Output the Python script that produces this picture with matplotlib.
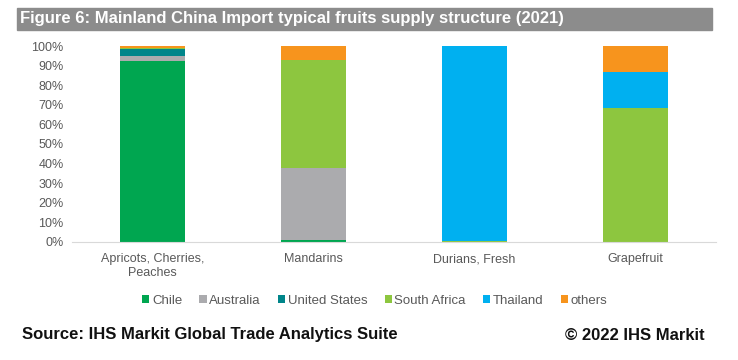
import numpy as np
import matplotlib.pyplot as plt
from matplotlib.patches import Rectangle
from matplotlib.ticker import PercentFormatter

categories = ["Apricots, Cherries,\nPeaches", "Mandarins", "Durians, Fresh", "Grapefruit"]
series = ["Chile", "Australia", "United States", "South Africa", "Thailand", "others"]

chile = [92.5, 1.2, 0.0, 0.0]
australia = [2.5, 36.5, 0.0, 0.0]
united_states = [3.5, 0.3, 0.0, 0.0]
south_africa = [0.5, 55.0, 0.5, 68.2]
thailand = [0.0, 0.0, 99.5, 18.7]
others = [1.0, 7.0, 0.0, 13.1]

colors = ["#00A650", "#ABABAE", "#00858A", "#8DC63F", "#00B0F0", "#F7941D"]

plt.rcParams['font.family'] = ['Liberation Sans', 'DejaVu Sans']

fig = plt.figure(figsize=(7.38, 3.6), dpi=100)
ax = fig.add_axes([0.0976, 0.328, 0.8724, 0.544])

x = np.arange(len(categories))
bottom = np.zeros(len(categories))
for name, vals, c in zip(series, [chile, australia, united_states, south_africa, thailand, others], colors):
    vals = np.array(vals) / 100
    ax.bar(x, vals, width=0.4, bottom=bottom, color=c, label=name)
    bottom += vals

ax.set_xlim(-0.5, len(categories) - 0.5)
ax.set_ylim(0, 1)
ax.set_yticks(np.arange(0, 1.01, 0.1))
ax.yaxis.set_major_formatter(PercentFormatter(1.0, decimals=0))
ax.set_xticks(x)
ax.set_xticklabels(categories)
ax.tick_params(length=0, labelsize=9, colors="#595959", pad=6)
ax.tick_params(axis="x", pad=8)
for s in ["top", "right", "left"]:
    ax.spines[s].set_visible(False)
ax.spines["bottom"].set_color("#D9D9D9")

ax.legend(loc="upper center", bbox_to_anchor=(0.47, -0.21), ncol=6, frameon=False,
          fontsize=9.5, labelcolor="#595959", handlelength=0.55, handleheight=0.55,
          handletextpad=0.2, columnspacing=1.3)

# title banner
fig.patches.append(Rectangle((17 / 738, 1 - 30 / 360), (712 - 17) / 738, 22 / 360,
                             transform=fig.transFigure, color="#8C8C8C", zorder=0))
fig.text(20 / 738, 1 - 19 / 360, "Figure 6: Mainland China Import typical fruits supply structure (2021)",
         color="white", fontsize=12, fontweight="bold", va="center", ha="left")

fig.text(22 / 738, 1 - 335 / 360, "Source: IHS Markit Global Trade Analytics Suite",
         fontsize=12, fontweight="bold", va="center", ha="left", color="#111111")
fig.text(705 / 738, 1 - 335 / 360, "© 2022 IHS Markit",
         fontsize=12, fontweight="bold", va="center", ha="right", color="#111111")

fig.savefig("out.png", dpi=100)
